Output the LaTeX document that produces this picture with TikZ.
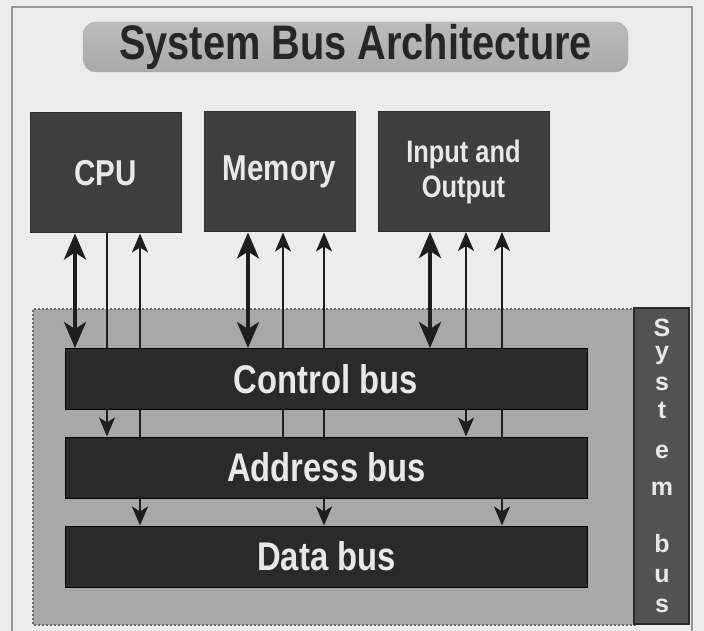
\documentclass[tikz,border=0pt]{standalone}
\usepackage{fontspec}
\setmainfont{Liberation Sans}
\newfontfamily\narrowsf{Liberation Sans}[FakeStretch=0.82]
\usetikzlibrary{arrows.meta}
\definecolor{bgc}{RGB}{236,236,236}
\definecolor{framec}{RGB}{150,150,150}
\definecolor{pillA}{RGB}{188,188,188}
\definecolor{pillB}{RGB}{170,170,170}
\definecolor{titlec}{RGB}{38,38,38}
\definecolor{boxc}{RGB}{62,62,62}
\definecolor{boxedge}{RGB}{45,45,45}
\definecolor{barc}{RGB}{42,42,42}
\definecolor{regionc}{RGB}{168,168,168}
\definecolor{dotc}{RGB}{105,105,105}
\definecolor{vboxc}{RGB}{82,82,82}
\definecolor{vedge}{RGB}{40,40,40}
\definecolor{arrc}{RGB}{30,30,30}
\definecolor{txtc}{RGB}{232,232,232}
\pgfdeclarelayer{bglayer}
\pgfdeclarelayer{arrlayer}
\pgfsetlayers{bglayer,arrlayer,main}
\begin{document}
\begin{tikzpicture}[x=1pt,y=-1pt,
  bigtip/.tip={Stealth[length=26pt,width=22pt,inset=7pt]},
  smalltip/.tip={Stealth[length=19pt,width=16pt,inset=5pt]},
  pill/.style={rounded corners=13pt, top color=pillA, bottom color=pillB, draw=pillB,
    minimum width=545pt, minimum height=50pt, inner sep=0pt, text=titlec,
    font=\narrowsf\bfseries\fontsize{48.5}{50}\selectfont},
  unitbox/.style={fill=boxc, draw=boxedge, line width=1pt, text=txtc, inner sep=0pt,
    minimum height=120pt, font=\narrowsf\bfseries\fontsize{36}{38}\selectfont},
  busbar/.style={fill=barc, draw=black, line width=1pt, minimum width=522pt,
    minimum height=61pt, text=txtc, inner sep=0pt,
    font=\narrowsf\bfseries\fontsize{40}{42}\selectfont},
  vletter/.style={text=txtc, inner sep=0pt, anchor=base,
    font=\bfseries\fontsize{25}{27}\selectfont},
  dblarrow/.style={draw=arrc, line width=4pt, bigtip-bigtip},
  wire/.style={draw=arrc, line width=2pt},
]
\useasboundingbox (0,0) rectangle (704,631);
\begin{pgfonlayer}{bglayer}
\fill[bgc] (0,0) rectangle (704,631);
\draw[framec, line width=1.2pt] (12,640) -- (12,7) -- (692,7) -- (692,640);
\fill[regionc] (33,309) rectangle (636,625);
\draw[dotc, line width=2pt, dash pattern=on 2pt off 2pt] (636,309) -- (33,309) -- (33,625) -- (636,625);
\end{pgfonlayer}

% title
\node[pill] (title) at (355.5,47) {System Bus Architecture};

% units
\node[unitbox, minimum width=151pt] (cpu) at (105.5,173) {CPU};
\node[unitbox, minimum width=151pt] (mem) at (279.5,172) {Memory};
\node[unitbox, minimum width=171pt, align=center,
  font=\narrowsf\bfseries\fontsize{31}{35}\selectfont] (io) at (463.5,171.5) {Input and\\Output};

% buses
\node[busbar] (ctrl) at (326,379) {Control bus};
\node[busbar] (addr) at (326.5,467.5) {Address bus};
\node[busbar] (data) at (326.5,556.5) {Data bus};

% vertical system bus label
\node[fill=vboxc, draw=vedge, line width=2pt, minimum width=55pt, minimum height=316pt, inner sep=0pt] (sysbox) at (661.5,466) {};
\node[vletter] (l1) at (662,336) {S};
\node[vletter] (l2) at (662,359) {y};
\node[vletter] (l3) at (662,390) {s};
\node[vletter] (l4) at (662,418) {t};
\node[vletter] (l5) at (662,458) {e};
\node[vletter] (l6) at (662,495) {m};
\node[vletter] (l7) at (662,552) {b};
\node[vletter] (l8) at (662,582) {u};
\node[vletter] (l9) at (662,612) {s};

% x positions of connectors
\coordinate (xa) at (75,0);
\coordinate (xb) at (107,0);
\coordinate (xc) at (140,0);
\coordinate (xd) at (248,0);
\coordinate (xe) at (283,0);
\coordinate (xf) at (324,0);
\coordinate (xg) at (430,0);
\coordinate (xh) at (466,0);
\coordinate (xi) at (502,0);

\begin{pgfonlayer}{arrlayer}
\draw[dblarrow] (cpu.south -| xa) -- (ctrl.north -| xa);
\draw[wire, -smalltip] (cpu.south -| xb) -- (addr.north -| xb);
\draw[wire, smalltip-smalltip] (cpu.south -| xc) -- (data.north -| xc);
\draw[dblarrow] (mem.south -| xd) -- (ctrl.north -| xd);
\draw[wire, smalltip-] (mem.south -| xe) -- (addr.north -| xe);
\draw[wire, smalltip-smalltip] (mem.south -| xf) -- (data.north -| xf);
\draw[dblarrow] (io.south -| xg) -- (ctrl.north -| xg);
\draw[wire, smalltip-smalltip] (io.south -| xh) -- (addr.north -| xh);
\draw[wire, smalltip-smalltip] (io.south -| xi) -- (data.north -| xi);
\end{pgfonlayer}
\end{tikzpicture}
\end{document}
